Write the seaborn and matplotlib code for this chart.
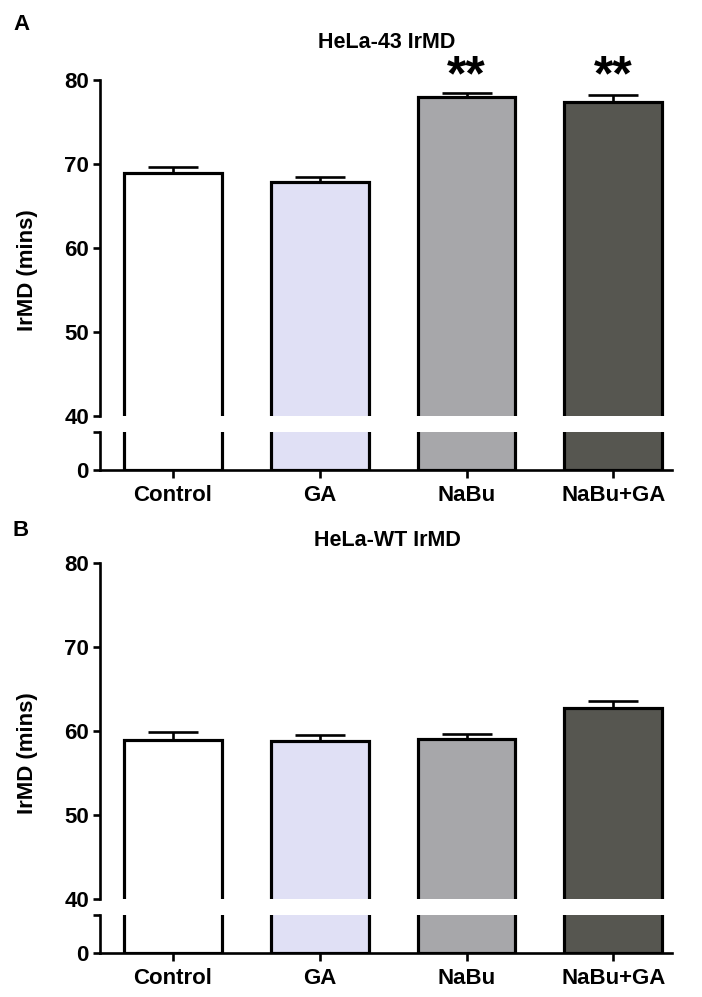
import numpy as np
import pandas as pd
import matplotlib.pyplot as plt
import seaborn as sns

# values (mean and upper error, minutes)
groups = ["Control", "GA", "NaBu", "NaBu+GA"]
hela43_mean = [68.9, 67.9, 78.0, 77.4]
hela43_err = [0.7, 0.6, 0.5, 0.8]
helawt_mean = [58.9, 58.8, 59.0, 62.7]
helawt_err = [1.0, 0.7, 0.6, 0.9]
hela43_stars = ["", "", "**", "**"]
helawt_stars = ["", "", "", ""]

sns.set_style("white")
plt.rcParams["font.family"] = ["Liberation Sans", "DejaVu Sans"]
plt.rcParams["font.weight"] = "bold"
plt.rcParams["text.color"] = "black"
plt.rcParams["axes.edgecolor"] = "black"
plt.rcParams["xtick.color"] = "black"
plt.rcParams["ytick.color"] = "black"

palette = ["#ffffff", "#dcdcf8", "#a6a6ab", "#57574f"]
W, H = 702, 997
fig = plt.figure(figsize=(W / 100, H / 100), dpi=100)


def fx(px):
    return px / W


def fy(px):
    return 1 - px / H


LEFT, RIGHT = 100, 672
XLIM = (-0.497, 3.40)
LW = 1.9


def style_axis(ax):
    ax.tick_params(axis="both", direction="out", length=5, width=LW,
                   labelsize=16, color="black", labelcolor="black", pad=3,
                   left=True, bottom=True)
    for lab in ax.get_yticklabels() + ax.get_xticklabels():
        lab.set_fontweight("bold")


def panel(top80, y40, brk, y0, mean, err, stars, title, letter, letter_y, title_y):
    df = pd.DataFrame({"group": groups, "value": mean})
    # upper (40-80) segment
    ax_t = fig.add_axes([fx(LEFT), fy(y40), fx(RIGHT - LEFT), (y40 - top80) / H])
    # lower (0-10) segment
    ax_b = fig.add_axes([fx(LEFT), fy(y0), fx(RIGHT - LEFT), (y0 - brk) / H])
    for ax in (ax_t, ax_b):
        sns.barplot(data=df, x="group", y="value", hue="group", palette=palette,
                    width=0.667, edgecolor="black", linewidth=LW * 1.2,
                    errorbar=None, legend=False, ax=ax)
        ax.set_xlim(*XLIM)
        ax.set_xlabel("")
        ax.set_ylabel("")
        for s in ["top", "right"]:
            ax.spines[s].set_visible(False)
        ax.spines["left"].set_linewidth(LW)
        ax.spines["bottom"].set_linewidth(LW)
        ax.patch.set_alpha(0)

    ax_t.errorbar(np.arange(len(groups)), mean, yerr=[np.zeros(len(err)), err],
                  fmt="none", ecolor="black", elinewidth=LW, capsize=18,
                  capthick=LW, zorder=5)
    ax_t.set_ylim(40, 80)
    ax_t.set_yticks([40, 50, 60, 70, 80])
    ax_t.spines["bottom"].set_visible(False)
    style_axis(ax_t)
    ax_t.tick_params(axis="x", bottom=False, labelbottom=False)

    ax_b.set_ylim(0, 10)
    ax_b.set_yticks([0, 10])
    ax_b.set_yticklabels(["0", ""])
    style_axis(ax_b)
    ax_b.tick_params(axis="x", length=6, pad=5)

    for i, s in enumerate(stars):
        if s:
            ax_t.text(i, 78.8, s, ha="center", va="baseline", fontsize=36,
                      fontweight="bold", clip_on=False)

    fig.text(fx(387), fy(title_y), title, ha="center", va="center",
             fontsize=15.5, fontweight="bold")
    fig.text(fx(21), fy(letter_y), letter, ha="center", va="center",
             fontsize=16, fontweight="bold")
    fig.text(fx(28), fy(top80 + 190), "IrMD (mins)", ha="center", va="center",
             rotation=90, fontsize=16, fontweight="bold")


panel(80, 416, 432, 470, hela43_mean, hela43_err, hela43_stars,
      "HeLa-43 IrMD", "A", 24, 42)
panel(563, 899, 915, 953, helawt_mean, helawt_err, helawt_stars,
      "HeLa-WT IrMD", "B", 530, 540)

fig.savefig("out.png", dpi=100)
